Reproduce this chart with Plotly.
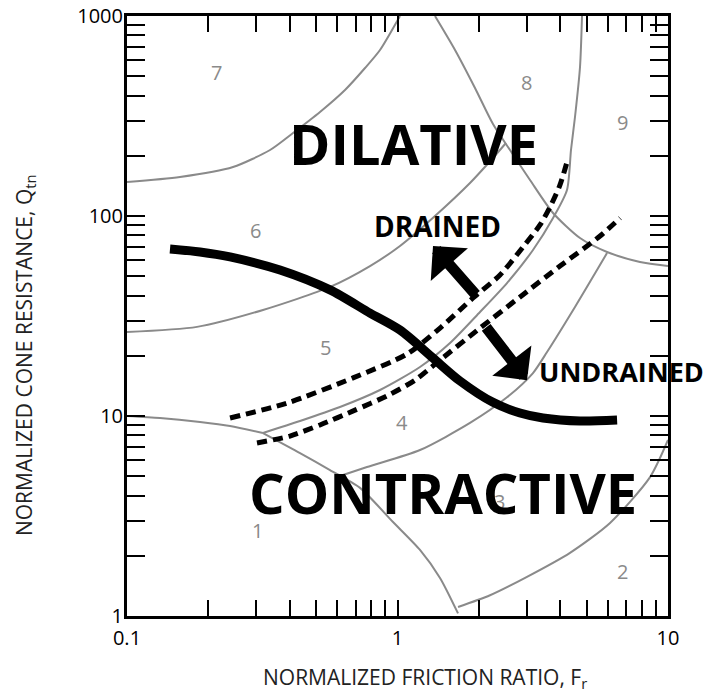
import numpy as np
import plotly.graph_objects as go

# ---------------- data (Fr in %, Qtn) ----------------
zone1_left_fr = [0.1, 0.1324, 0.1862, 0.2404, 0.3183]
zone1_left_q = [10, 9.77, 9.33, 8.91, 8.22]
zone1_right_fr = [0.3183, 0.4361, 0.5629, 0.7268, 0.9625, 1.211, 1.436, 1.674]
zone1_right_q = [8.22, 6.53, 5.37, 4.37, 2.95, 2.14, 1.55, 1.03]
zone2_fr = [1.674, 2.198, 3.011, 4.342, 6.105, 8.582, 10]
zone2_q = [1.11, 1.27, 1.57, 2.07, 2.92, 4.95, 7.59]
zone34_fr = [0.6129, 0.7713, 1.211, 1.8535, 2.5393, 3.1686, 3.5716, 4.5305, 5.9512]
zone34_q = [5.01, 5.56, 6.76, 9.23, 12.4, 16.4, 20.9, 35.1, 65.3]
zone45_fr = [0.3183, 0.4361, 0.6129, 0.8616, 1.211, 1.5637, 2.0184, 2.5393, 3.1686,
             3.7587, 4.2321, 4.379, 4.5305, 4.7283, 4.8096]
zone45_q = [8.22, 9.44, 11.09, 13.49, 17.58, 23.17, 33.11, 46.2, 67.6,
            97.7, 134.9, 213.8, 312.6, 555.9, 1000]
zone56_fr = [0.1, 0.1815, 0.3183, 0.5629, 0.7912, 1.0214, 1.3759, 1.8535, 2.2542, 2.5177]
zone56_q = [26.3, 27.9, 33.9, 44.2, 56.2, 70.8, 100, 146.2, 195.0, 231.7]
zone67_fr = [0.1, 0.1570, 0.2466, 0.3379, 0.4109, 0.5170, 0.6396, 0.7585, 0.8616, 1.0214]
zone67_q = [147.9, 156.7, 175.8, 213.8, 260.0, 331.1, 426.6, 549.5, 676.1, 1000]
zone8_fr = [1.3759, 1.6318, 1.9341, 2.2542, 2.6050, 3.0888, 3.7587, 4.7283, 5.9512, 7.88, 10]
zone8_q = [1000, 676.1, 436.5, 288.4, 213.8, 151.4, 103.5, 77.6, 66.1, 58.9, 56.2]

upper_dash_fr = [0.2404, 0.3904, 0.6847, 1.0842, 1.4363, 1.9014, 2.3928, 2.9111, 3.3633, 3.6640, 3.9874, 4.2321]
upper_dash_q = [9.77, 11.6, 15.5, 20.4, 27.5, 38.9, 50.7, 70.0, 90.2, 110.9, 142.9, 186.2]
lower_dash_fr = [0.3024, 0.4005, 0.5170, 0.6964, 0.9145, 1.1606, 1.4363, 2.0184, 2.8379, 3.9874, 5.6082, 6.6504]
lower_dash_q = [7.33, 7.94, 9.02, 10.7, 12.6, 15.1, 19.05, 27.5, 39.4, 56.2, 79.4, 97.7]

boundary_fr = [0.1442, 0.1862, 0.2404, 0.3678, 0.5629, 0.7912, 1.0214, 1.3527, 1.7027, 2.2542,
               2.8379, 3.4505, 4.7283, 6.4829]
boundary_q = [68.4, 66.1, 62.4, 53.7, 42.7, 32.7, 26.9, 19.5, 14.96, 11.7, 10.35, 9.77, 9.44, 9.55]

zone_labels = ["7", "8", "9", "6", "5", "4", "3", "1", "2"]
zone_label_fr = [0.2151, 3.011, 6.761, 0.2973, 0.5395, 1.0391, 2.3928, 0.3024, 6.761]
zone_label_q = [524.8, 467.7, 295.1, 85.1, 21.9, 9.33, 3.72, 2.69, 1.66]

drained_arrow_tail = (1.9673, 39.8)
drained_arrow_tip = (1.3527, 70.8)
undrained_arrow_tail = (2.1063, 28.2)
undrained_arrow_tip = (3.011, 15.1)

x_tick_vals = [0.1, 0.2, 0.3, 0.4, 0.5, 0.6, 0.7, 0.8, 0.9, 1, 2, 3, 4, 5, 6, 7, 8, 9, 10]
x_tick_text = ["0.1", "", "", "", "", "", "", "", "", "1", "", "", "", "", "", "", "", "", "10"]
y_tick_vals = [1, 2, 3, 4, 5, 6, 7, 8, 9, 10, 20, 30, 40, 50, 60, 70, 80, 90,
               100, 200, 300, 400, 500, 600, 700, 800, 900, 1000]
y_tick_text = ["1"] + [""] * 8 + ["10"] + [""] * 8 + ["100"] + [""] * 8 + ["1000"]

# ---------------- figure ----------------
FONT = "Open Sans"
GRAY = "#8a8a8a"
fig = go.Figure()

def add_line(xs, ys, color, width, dash="solid", smooth=0.7):
    fig.add_trace(go.Scatter(x=xs, y=ys, mode="lines",
                             line=dict(color=color, width=width, dash=dash, shape="spline", smoothing=smooth),
                             hoverinfo="skip", showlegend=False))

for xs, ys in [(zone1_left_fr, zone1_left_q), (zone1_right_fr, zone1_right_q), (zone2_fr, zone2_q),
               (zone34_fr, zone34_q), (zone45_fr, zone45_q), (zone56_fr, zone56_q),
               (zone67_fr, zone67_q), (zone8_fr, zone8_q)]:
    add_line(xs, ys, GRAY, 2)

for xs, ys in [(upper_dash_fr, upper_dash_q), (lower_dash_fr, lower_dash_q)]:
    add_line(xs, ys, "black", 5, dash="10px,6px")

add_line(boundary_fr, boundary_q, "black", 9, smooth=0.8)

L = np.log10
annotations = []
for t, fx, qy in zip(zone_labels, zone_label_fr, zone_label_q):
    annotations.append(dict(x=L(fx), y=L(qy), xref="x", yref="y", text=t, showarrow=False,
                            font=dict(family=FONT, size=20, color=GRAY)))

def big(text, fx, qy, size):
    annotations.append(dict(x=L(fx), y=L(qy), xref="x", yref="y", text=text, showarrow=False,
                            font=dict(family=FONT, size=size, color="black", weight=700)))

big("DILATIVE", 1.146, 231.7, 56)
big("CONTRACTIVE", 1.479, 4.17, 56)
big("DRAINED", 1.405, 89.1, 28)
big("UNDRAINED", 6.703, 16.6, 27)

for tail, tip in [(drained_arrow_tail, drained_arrow_tip), (undrained_arrow_tail, undrained_arrow_tip)]:
    annotations.append(dict(x=L(tip[0]), y=L(tip[1]), ax=L(tail[0]), ay=L(tail[1]),
                            xref="x", yref="y", axref="x", ayref="y", text="",
                            showarrow=True, arrowhead=1, arrowsize=0.75, arrowwidth=11,
                            arrowcolor="black", standoff=0))

annotations.append(dict(x=0.5508, y=-0.1033, xref="paper", yref="paper", xanchor="center", yanchor="middle",
                        text="NORMALIZED FRICTION RATIO, F<sub>r</sub>", showarrow=False,
                        font=dict(family=FONT, size=21, color="#222")))
annotations.append(dict(x=-0.1885, y=0.435, xref="paper", yref="paper", xanchor="center", yanchor="middle",
                        textangle=-90,
                        text="NORMALIZED CONE RESISTANCE, Q<sub>tn</sub>", showarrow=False,
                        font=dict(family=FONT, size=21, color="#222")))

axis_common = dict(type="log", showgrid=False, zeroline=False, showline=True, linecolor="black",
                   linewidth=3, mirror="ticks", ticks="inside", tickcolor="black", tickwidth=2,
                   automargin=False, ticklabeloverflow="allow",
                   tickfont=dict(family=FONT, size=20, color="black"))

# the page body adds an 8px margin, so the figure is sized/positioned to compensate
fig.update_layout(
    width=712, height=688, margin=dict(l=119, r=52, t=8, b=80, autoexpand=False),
    paper_bgcolor="white", plot_bgcolor="white",
    xaxis=dict(range=[-1, 1], tickvals=x_tick_vals, ticktext=x_tick_text, ticklen=16,
               ticklabelstandoff=2, **axis_common),
    yaxis=dict(range=[0, 3], tickvals=y_tick_vals, ticktext=y_tick_text, ticklen=18,
               ticklabelstandoff=-3, **axis_common),
    annotations=annotations,
)

fig.write_html("out.html")
